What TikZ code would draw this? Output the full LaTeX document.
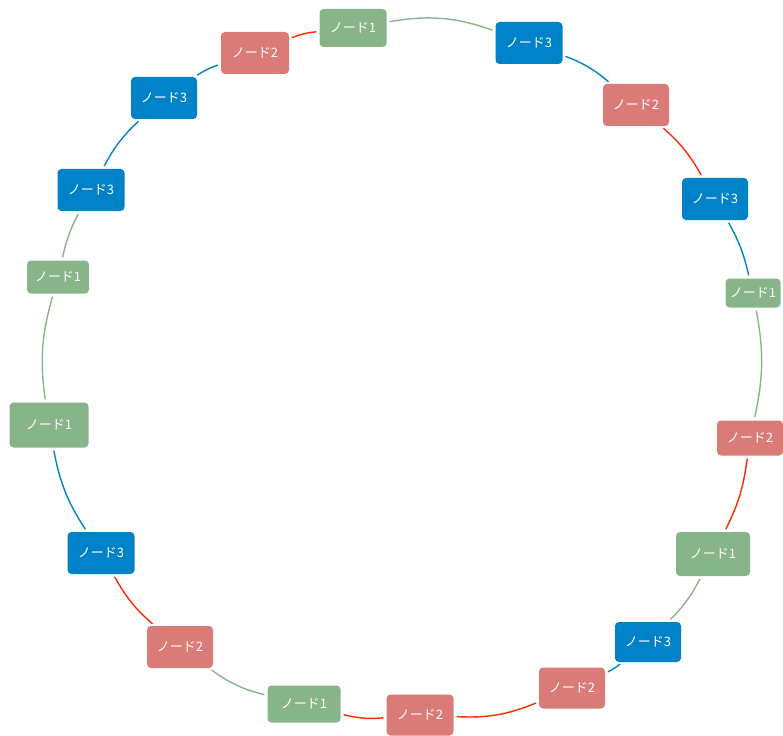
\documentclass[tikz,border=0pt]{standalone}
\usepackage{fontspec}
\setmainfont{Noto Sans CJK JP}
\usepackage{xcolor}
\usepackage{tikz}
\definecolor{grn}{HTML}{88B48A}
\definecolor{blu}{HTML}{0082C8}
\definecolor{rdn}{HTML}{DA7B78}
\definecolor{rdl}{HTML}{FF2A00}

\begin{document}
\begin{tikzpicture}[x=1pt,y=-1pt,
box/.style={rectangle, rounded corners=4pt, text=white, inner sep=0pt,
  minimum width=66pt, minimum height=42pt, font=\fontsize{13}{15}\selectfont},
n1/.style={box, fill=grn},
n2/.style={box, fill=rdn},
n3/.style={box, fill=blu},
arc/.style={line width=1.4pt, shorten <=3pt, shorten >=3pt}]
\useasboundingbox (0,0) rectangle (783,735);
\node[n1, minimum width=67pt, minimum height=38pt] (a1) at (353,28) {ノード1};
\node[n3, minimum width=67pt] (a2) at (529,43) {ノード3};
\node[n2] (a3) at (636,105) {ノード2};
\node[n3] (a4) at (715,199) {ノード3};
\node[n1, minimum width=55pt, minimum height=29pt] (a5) at (753,293) {ノード1};
\node[n2, minimum height=35pt] (a6) at (750,438) {ノード2};
\node[n1, minimum width=74pt, minimum height=44pt] (a7) at (713,554) {ノード1};
\node[n3, minimum height=40pt] (a8) at (648,642) {ノード3};
\node[n2, minimum height=41pt] (a9) at (572,688) {ノード2};
\node[n2, minimum width=67pt, minimum height=41pt] (a10) at (420,715) {ノード2};
\node[n1, minimum width=73pt, minimum height=37pt] (a11) at (304,704) {ノード1};
\node[n2] (a12) at (180,647) {ノード2};
\node[n3, minimum width=67pt] (a13) at (101,553) {ノード3};
\node[n1, minimum width=79pt, minimum height=45pt] (a14) at (49,425) {ノード1};
\node[n1, minimum width=62pt, minimum height=33pt] (a15) at (58,277) {ノード1};
\node[n3, minimum width=67pt] (a16) at (91,190) {ノード3};
\node[n3] (a17) at (164,98) {ノード3};
\node[n2, minimum width=68pt] (a18) at (255,53) {ノード2};

\draw[arc, grn] (a1) to[bend left=14.6] (a2);
\draw[arc, blu] (a2) to[bend left=10] (a3);
\draw[arc, rdl] (a3) to[bend left=9.8] (a4);
\draw[arc, blu] (a4) to[bend left=8.1] (a5);
\draw[arc, grn] (a5) to[bend left=11.6] (a6);
\draw[arc, rdl] (a6) to[bend left=9.7] (a7);
\draw[arc, grn] (a7) to[bend left=8.6] (a8);
\draw[arc, blu] (a8) to[bend left=7] (a9);
\draw[arc, rdl] (a9) to[bend left=12.6] (a10);
\draw[arc, rdl] (a10) to[bend left=9.7] (a11);
\draw[arc, grn] (a11) to[bend left=11.3] (a12);
\draw[arc, rdl] (a12) to[bend left=10] (a13);
\draw[arc, blu] (a13) to[bend left=11.3] (a14);
\draw[arc, grn] (a14) to[bend left=12] (a15);
\draw[arc, grn] (a15) to[bend left=7.5] (a16);
\draw[arc, blu] (a16) to[bend left=9.4] (a17);
\draw[arc, blu] (a17) to[bend left=8.1] (a18);
\draw[arc, rdl] (a18) to[bend left=8.3] (a1);
\end{tikzpicture}
\end{document}
